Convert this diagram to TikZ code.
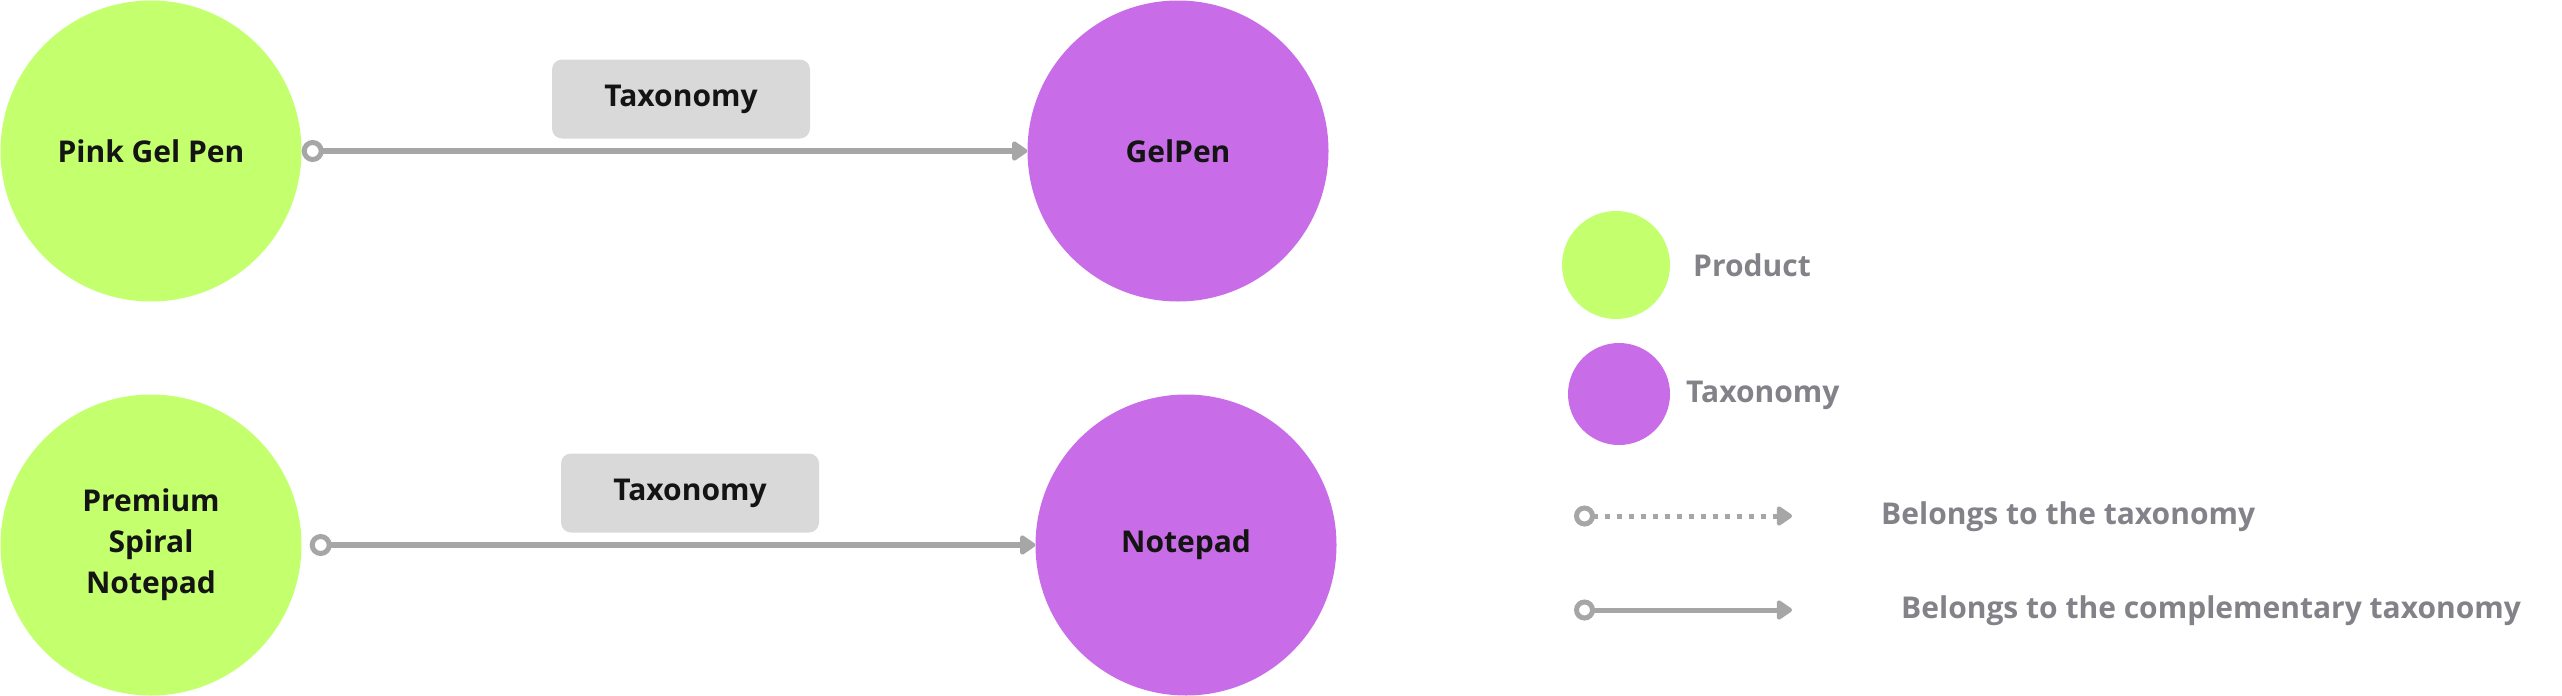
\documentclass[tikz,border=0pt]{standalone}
\usepackage{fontspec}
\setmainfont{Open Sans}
\usetikzlibrary{arrows.meta}
\definecolor{prodgreen}{HTML}{C4FF6E}
\definecolor{taxpurple}{HTML}{C86DE7}
\definecolor{boxgray}{HTML}{D9D9D9}
\definecolor{linegray}{HTML}{A6A6A6}
\definecolor{legtext}{HTML}{828288}
\definecolor{nodetext}{HTML}{141414}
\tikzset{
  bignode/.style={circle, minimum size=301pt, inner sep=0pt, align=center,
    text=nodetext, font=\fontsize{30}{41}\selectfont\bfseries},
  product/.style={bignode, fill=prodgreen},
  taxon/.style={bignode, fill=taxpurple},
  lbox/.style={rectangle, rounded corners=10pt, fill=boxgray, minimum width=258pt,
    minimum height=79pt, text=nodetext, font=\fontsize{30}{41}\selectfont\bfseries},
  conn/.style={draw=linegray, line width=6pt,
    {Circle[open, fill=white, length=22pt, width=22pt, line width=5pt]}-{Triangle[round, length=17pt, width=22pt]}},
  legconn/.style={draw=linegray, line width=5pt,
    {Circle[open, fill=white, length=21pt, width=21pt, line width=5pt]}-{Triangle[round, length=17pt, width=22pt]}},
  legdot/.style={legconn, dash pattern=on 5pt off 7pt},
  legcirc/.style={circle, inner sep=0pt},
  legtxt/.style={anchor=west, inner sep=0pt, text=legtext, font=\fontsize{30}{34}\selectfont\bfseries}
}
\begin{document}
\begin{tikzpicture}[x=1pt,y=-1pt]
\useasboundingbox (0,0) rectangle (2562,696);
% main nodes
\node[product] (pink) at (151,151) {Pink Gel Pen};
\node[taxon] (gelpen) at (1178,151) {GelPen};
\node[product] (premium) at (151,545) {Premium\\Spiral\\Notepad};
\node[taxon] (notepad) at (1186,545) {Notepad};
% labels
\node[lbox] (lab1) at (681,99) {Taxonomy};
\node[lbox] (lab2) at (690,493) {Taxonomy};
% connectors
\draw[conn] (pink) -- (gelpen);
\draw[conn, shorten <=8pt] (premium) -- (notepad);
% legend
\node[legcirc, fill=prodgreen, minimum size=108pt] (lgreen) at (1616,265) {};
\node[legcirc, fill=taxpurple, minimum size=102pt] (lpurple) at (1619,394) {};
\node[legtxt] (tprod) at (1693,265) {Product};
\node[legtxt] (ttax) at (1686,395) {Taxonomy};
\coordinate (d1s) at (1574,516);
\coordinate (d1e) at (1792,516);
\coordinate (d2s) at (1574,610);
\coordinate (d2e) at (1792,610);
\draw[legdot] (d1s) -- (d1e);
\draw[legconn] (d2s) -- (d2e);
\node[legtxt] (tbel1) at (1881,517) {Belongs to the taxonomy};
\node[legtxt] (tbel2) at (1901,611) {Belongs to the complementary taxonomy};
\end{tikzpicture}
\end{document}
